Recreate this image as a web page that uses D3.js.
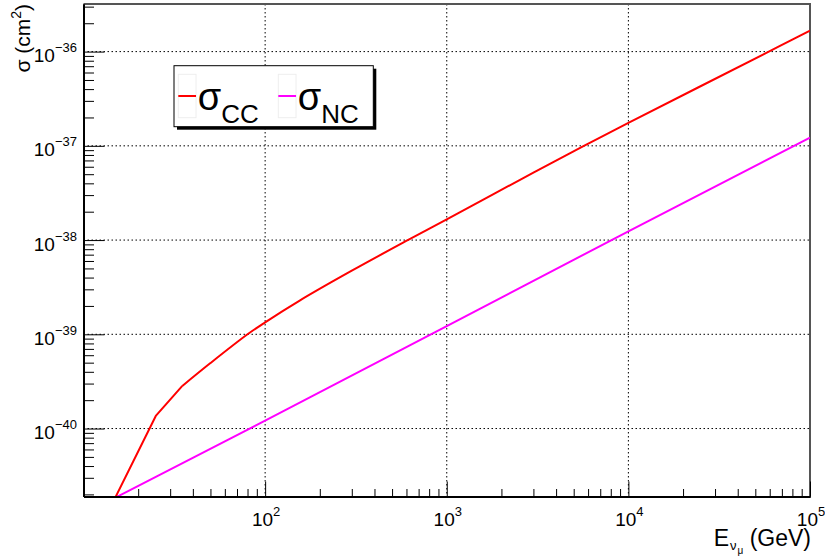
<!DOCTYPE html>
<html>
<head>
<meta charset="utf-8">
<script src="https://cdn.jsdelivr.net/npm/d3@7"></script>
<style>
  body { margin: 0; background: #fff; }
  svg { display: block; font-family: "Liberation Sans", Arial, sans-serif; }
</style>
</head>
<body>
<div id="chart"></div>
<script>
// neutrino energy (GeV) and cross sections (cm^2)
const energyCC = [15, 25, 35, 50, 80, 100, 155, 300, 621, 1000, 3000, 5690, 10000, 59300, 100000];
const sigmaCC = [1.87e-41, 1.36e-40, 2.83e-40, 4.95e-40, 1.0e-39, 1.34e-39, 2.28e-39, 4.73e-39, 1.016e-38, 1.66e-38, 5.2e-38, 1.0e-37, 1.75e-37, 1.0e-36, 1.67e-36];
const energyNC = [15, 100, 1000, 10000, 100000];
const sigmaNC = [1.85e-41, 1.21e-40, 1.22e-39, 1.24e-38, 1.22e-37];

const xMajor = [100, 1000, 10000, 100000];
const xMajorExp = ["2", "3", "4", "5"];
const yMajor = [1e-36, 1e-37, 1e-38, 1e-39, 1e-40];
const yMajorExp = ["\u221236", "\u221237", "\u221238", "\u221239", "\u221240"];

const W = 825, H = 557;
const frame = { left: 83.5, right: 810, top: 4, bottom: 496.5 };

const svg = d3.select("#chart").append("svg").attr("width", W).attr("height", H);

const x = d3.scaleLog().domain([10, 1e5]).range([frame.left, frame.right]);
const y = d3.scaleLog().domain([1.9e-41, 3.2e-36]).range([frame.bottom, frame.top]);

// minor tick values: 2..9 of every decade inside the domain
function minorTicks(scale) {
  const [a, b] = scale.domain();
  const out = [];
  for (let e = Math.floor(Math.log10(a)); e <= Math.ceil(Math.log10(b)); e++) {
    for (let m = 2; m <= 9; m++) {
      const v = m * Math.pow(10, e);
      if (v >= a && v <= b) out.push(v);
    }
  }
  return out;
}

// grid
const grid = svg.append("g").attr("stroke", "#000").attr("stroke-width", 1)
  .attr("stroke-dasharray", "1.5,2.5");
grid.selectAll(".gx").data(xMajor).enter().append("line")
  .attr("x1", d => x(d)).attr("x2", d => x(d))
  .attr("y1", frame.top).attr("y2", frame.bottom);
grid.selectAll(".gy").data(yMajor).enter().append("line")
  .attr("x1", frame.left).attr("x2", frame.right)
  .attr("y1", d => y(d)).attr("y2", d => y(d));

// top / right frame
svg.append("path")
  .attr("d", `M${frame.left},${frame.top}H${frame.right}V${frame.bottom}`)
  .attr("fill", "none").attr("stroke", "#555").attr("stroke-width", 2);

// curves
svg.append("clipPath").attr("id", "clip").append("rect")
  .attr("x", frame.left).attr("y", frame.top)
  .attr("width", frame.right - frame.left).attr("height", frame.bottom - frame.top);

const straight = d3.line().x(d => x(d[0])).y(d => y(d[1]));
const smooth = d3.line().x(d => x(d[0])).y(d => y(d[1])).curve(d3.curveCatmullRom.alpha(0.5));
const cc = d3.zip(energyCC, sigmaCC);
const plot = svg.append("g").attr("clip-path", "url(#clip)")
  .attr("fill", "none").attr("stroke-width", 2).attr("stroke-linejoin", "round");
plot.append("path").datum(d3.zip(energyNC, sigmaNC))
  .attr("d", straight).attr("stroke", "#ff00ff");
// threshold region is a sharp polyline, the rest a smooth curve
plot.append("path").datum(cc.slice(0, 3))
  .attr("d", straight).attr("stroke", "#ff0000");
plot.append("path").datum(cc.slice(2))
  .attr("d", smooth).attr("stroke", "#ff0000");

// axes (ticks pointing inward)
function styleAxis(g, w) {
  g.select(".domain").attr("stroke", "#000").attr("stroke-width", w);
  g.selectAll(".tick line").attr("stroke", "#000");
}
svg.append("g").attr("transform", `translate(0,${frame.bottom})`)
  .call(d3.axisBottom(x).tickValues(minorTicks(x).filter(v => !xMajor.includes(v)))
    .tickSize(-7.5).tickSizeOuter(0).tickFormat(""))
  .call(g => styleAxis(g, 2));
svg.append("g").attr("transform", `translate(0,${frame.bottom})`)
  .call(d3.axisBottom(x).tickValues(xMajor).tickSize(-15).tickSizeOuter(0).tickFormat(""))
  .call(g => styleAxis(g, 2));
svg.append("g").attr("transform", `translate(${frame.left},0)`)
  .call(d3.axisLeft(y).tickValues(minorTicks(y).filter(v => !yMajor.some(m => Math.abs(v / m - 1) < 1e-6)))
    .tickSize(-10.5).tickSizeOuter(0).tickFormat(""))
  .call(g => styleAxis(g, 2));
svg.append("g").attr("transform", `translate(${frame.left},0)`)
  .call(d3.axisLeft(y).tickValues(yMajor).tickSize(-21).tickSizeOuter(0).tickFormat(""))
  .call(g => styleAxis(g, 2));

// tick labels
const xl = svg.append("g").attr("fill", "#000");
xMajor.forEach((v, i) => {
  const t = xl.append("text").attr("x", x(v) + 1).attr("y", 525.5)
    .attr("text-anchor", "middle").attr("font-size", 19);
  t.append("tspan").text("10");
  t.append("tspan").attr("dy", -10).attr("font-size", 13).text(xMajorExp[i]);
});
const yl = svg.append("g").attr("fill", "#000");
yMajor.forEach((v, i) => {
  const t = yl.append("text").attr("x", 77).attr("y", y(v) + 10.5)
    .attr("text-anchor", "end").attr("font-size", 19);
  t.append("tspan").text("10");
  t.append("tspan").attr("dy", -10).attr("font-size", 13).text(yMajorExp[i]);
});

// axis titles
const xt = svg.append("text").attr("x", 811).attr("y", 546)
  .attr("text-anchor", "end").attr("font-size", 23);
xt.append("tspan").text("E");
xt.append("tspan").attr("dx", 1).attr("dy", 4).attr("font-size", 13).text("\u03bd");
xt.append("tspan").attr("dx", 1).attr("dy", 4).attr("font-size", 10).text("\u03bc");
xt.append("tspan").attr("dy", -8).text(" (GeV)");

const yt = svg.append("text").attr("transform", "translate(30,4) rotate(-90)")
  .attr("text-anchor", "end").attr("font-size", 21);
yt.append("tspan").text("\u03c3 (cm");
yt.append("tspan").attr("dy", -9).attr("font-size", 14).text("2");
yt.append("tspan").attr("dy", 9).text(")");

// legend
const legendItems = [
  { name: "CC", color: "#ff0000" },
  { name: "NC", color: "#ff00ff" }
];
const lg = svg.append("g");
lg.append("rect").attr("x", 177).attr("y", 68.7).attr("width", 199.3).attr("height", 61)
  .attr("fill", "#000");
lg.append("rect").attr("x", 174).attr("y", 65.7).attr("width", 199.3).attr("height", 61)
  .attr("fill", "#fff").attr("stroke", "#000").attr("stroke-width", 1);
legendItems.forEach((d, i) => {
  const x0 = 178.3 + i * 100;
  lg.append("rect").attr("x", x0).attr("y", 74.3).attr("width", 17.7).attr("height", 43.4)
    .attr("fill", "none").attr("stroke", "#eee").attr("stroke-width", 1);
  lg.append("line").attr("x1", x0).attr("x2", x0 + 17.7).attr("y1", 96).attr("y2", 96)
    .attr("stroke", d.color).attr("stroke-width", 2);
  const t = lg.append("text").attr("x", x0 + 19.5).attr("y", 110).attr("font-size", 38);
  t.append("tspan").text("\u03c3");
  t.append("tspan").attr("dy", 13).attr("font-size", 26).text(d.name);
});
</script>
</body>
</html>
